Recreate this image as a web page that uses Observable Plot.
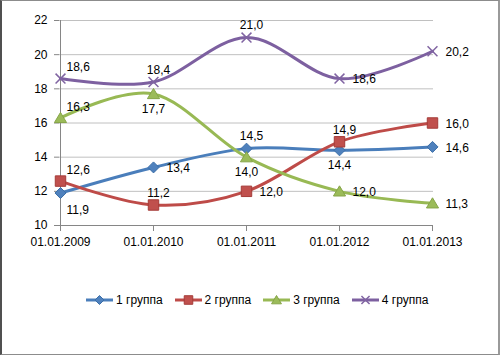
<!DOCTYPE html>
<html>
<head>
<meta charset="utf-8">
<script src="https://cdn.jsdelivr.net/npm/d3@7"></script>
<script src="https://cdn.jsdelivr.net/npm/@observablehq/plot@0.6"></script>
<style>
  body { margin: 0; background: #fff; font-family: "Liberation Sans", Arial, sans-serif; }
  #wrap { position: relative; width: 501px; height: 356px; overflow: hidden; }
  #frame { position: absolute; left: 0; top: 0; width: 500px; height: 355px; box-sizing: border-box;
           border: 1px solid #8c8c8c; border-left: 2px solid #505050; border-right: 2px solid #9a9a9a; pointer-events: none; }
  #legend { display: flex; gap: 12px; padding-left: 86px; margin-top: 38px; font-size: 12px; align-items: center; }
  .item { display: flex; align-items: center; }
  .item span { margin-left: 3px; }
</style>
</head>
<body>
<div id="wrap"><div id="chart"></div><div id="legend"></div><div id="frame"></div></div>
<script>
// ---- data ----
const dates = ["01.01.2009", "01.01.2010", "01.01.2011", "01.01.2012", "01.01.2013"];
const seriesNames = ["1 группа", "2 группа", "3 группа", "4 группа"];
const group1 = [11.9, 13.4, 14.5, 14.4, 14.6];
const group2 = [12.6, 11.2, 12.0, 14.9, 16.0];
const group3 = [16.3, 17.7, 14.0, 12.0, 11.3];
const group4 = [18.6, 18.4, 21.0, 18.6, 20.2];
const yTicks = [10, 12, 14, 16, 18, 20, 22];

// ---- styles ----
const lineColors = ["#4A7EBB", "#BE4B48", "#98B954", "#7D60A0"];
const markFill = ["#4F81BD", "#C0504D", "#9BBB59", "none"];
const markStroke = ["#3A6EA8", "#A53C39", "#86A548", "#8064A2"];
const labelPlace = [
  ["br", "r", "a", "b", "r"],
  ["ar", "a", "r", "a", "r"],
  ["ar", "b", "b", "r", "r"],
  ["ar", "a", "a", "r", "r"]
];
const placeStyle = {
  ar: {textAnchor: "start", dx: 6, dy: -11},
  a:  {textAnchor: "middle", dx: 5, dy: -12},
  b:  {textAnchor: "middle", dx: 0, dy: 15},
  r:  {textAnchor: "start", dx: 13, dy: 1},
  br: {textAnchor: "start", dx: 6, dy: 17}
};

const symDiamond = {draw(c, size) { const r = Math.sqrt(size / Math.PI); c.moveTo(0, -r); c.lineTo(r, 0); c.lineTo(0, r); c.lineTo(-r, 0); c.closePath(); }};
const symSquare = {draw(c, size) { const r = Math.sqrt(size / Math.PI) * 0.95; c.rect(-r, -r, 2 * r, 2 * r); }};
const symTriangle = {draw(c, size) { const r = Math.sqrt(size / Math.PI); c.moveTo(0, -r); c.lineTo(1.1 * r, 0.85 * r); c.lineTo(-1.1 * r, 0.85 * r); c.closePath(); }};
const symTimes = {draw(c, size) { const r = Math.sqrt(size / Math.PI) * 0.9; c.moveTo(-r, -r); c.lineTo(r, r); c.moveTo(r, -r); c.lineTo(-r, r); }};
const symbols = [symDiamond, symSquare, symTriangle, symTimes];

const values = [group1, group2, group3, group4];
const rows = [];
values.forEach((arr, i) => arr.forEach((v, j) => rows.push({s: i, series: seriesNames[i], date: dates[j], value: v, place: labelPlace[i][j], label: v.toFixed(1).replace(".", ",")})));

const axisColor = "#868686";
const marks = [
  Plot.ruleY(yTicks.filter(t => t > 10), {stroke: "#c0c0c0", strokeWidth: 1}),
  Plot.ruleY([10], {stroke: axisColor}),
  Plot.ruleX([dates[0]], {stroke: axisColor}),
  Plot.axisY({ticks: yTicks, tickSize: 5, tickPadding: 7, stroke: axisColor, fill: "#000", tickFormat: d => String(d)}),
  Plot.axisX({tickSize: 6, tickPadding: 6, stroke: axisColor, fill: "#000"})
];
values.forEach((arr, i) => {
  const d = rows.filter(r => r.s === i);
  marks.push(Plot.line(d, {x: "date", y: "value", stroke: lineColors[i], strokeWidth: 3, curve: "cardinal"}));
  marks.push(Plot.dot(d, {x: "date", y: "value", symbol: symbols[i], r: 5.5, fill: markFill[i], stroke: markStroke[i], strokeWidth: i === 3 ? 1.5 : 1}));
});
Object.entries(placeStyle).forEach(([k, st]) => {
  marks.push(Plot.text(rows.filter(r => r.place === k), {x: "date", y: "value", text: "label", fill: "#000", ...st}));
});

const chart = Plot.plot({
  width: 501, height: 255,
  marginLeft: 59, marginRight: 68, marginTop: 20, marginBottom: 30,
  style: {fontFamily: '"Liberation Sans", Arial, sans-serif', fontSize: "12px", background: "#fff", overflow: "visible"},
  x: {type: "point", domain: dates, padding: 0, label: null},
  y: {domain: [10, 22], label: null},
  marks
});
document.getElementById("chart").appendChild(chart);

// legend
const legend = d3.select("#legend");
seriesNames.forEach((name, i) => {
  const it = legend.append("div").attr("class", "item");
  const svg = it.append("svg").attr("width", 27).attr("height", 12);
  svg.append("line").attr("x1", 0).attr("x2", 27).attr("y1", 6).attr("y2", 6).attr("stroke", lineColors[i]).attr("stroke-width", 3);
  const p = d3.path();
  symbols[i].draw(p, Math.PI * 4.5 * 4.5);
  svg.append("path").attr("d", p.toString()).attr("transform", "translate(13.5,6)")
    .attr("fill", markFill[i]).attr("stroke", markStroke[i]).attr("stroke-width", i === 3 ? 1.5 : 1);
  it.append("span").text(name);
});
</script>
</body>
</html>
